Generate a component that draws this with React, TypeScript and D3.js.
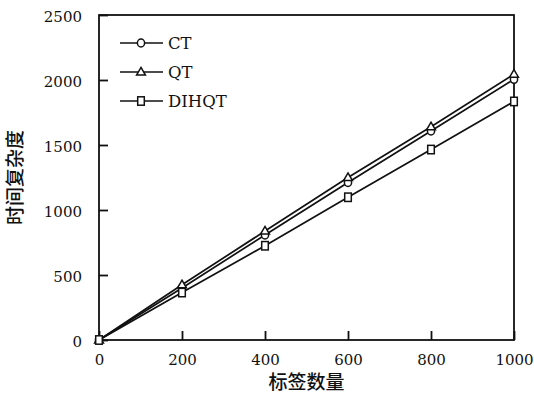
import React, { useEffect, useRef } from "react";
import * as d3 from "d3";

const xValues = [0, 200, 400, 600, 800, 1000];
const ctValues = [0, 400, 808, 1212, 1608, 2005];
const qtValues = [0, 425, 838, 1250, 1640, 2045];
const dihqtValues = [0, 365, 725, 1098, 1465, 1835];
const seriesNames = ["CT", "QT", "DIHQT"];
const seriesMarkers = ["circle", "triangle", "square"];
const xTicks = [0, 200, 400, 600, 800, 1000];
const yTicks = [0, 500, 1000, 1500, 2000, 2500];
const xLabel = "标签数量";
const yLabel = "时间复杂度";

const W = 534;
const H = 394;
const M = { left: 99, right: 20, top: 15, bottom: 54 };

function Marker({ type, x, y }: { type: string; x: number; y: number }) {
  const common = { fill: "#fff", stroke: "#111", strokeWidth: 1.5 };
  if (type === "circle") return <ellipse cx={x} cy={y} rx={3.6} ry={4} {...common} />;
  if (type === "triangle") {
    const p = d3.symbol().type(d3.symbolTriangle).size(34)();
    return <path d={p as string} transform={`translate(${x},${y + 0.5})`} {...common} />;
  }
  return <rect x={x - 3.3} y={y - 4.2} width={6.6} height={8.4} {...common} />;
}

export default function App() {
  const xAxisRef = useRef<SVGGElement>(null);
  const yAxisRef = useRef<SVGGElement>(null);
  const x = d3.scaleLinear().domain([0, 1000]).range([M.left, W - M.right]);
  const y = d3.scaleLinear().domain([0, 2500]).range([H - M.bottom, M.top]);
  const allSeries = [ctValues, qtValues, dihqtValues];

  useEffect(() => {
    const font = "'DejaVu Serif', serif";
    const xa = d3.axisBottom(x).tickValues(xTicks).tickSizeInner(-9).tickSizeOuter(0).tickPadding(14).tickFormat(d3.format("d"));
    const ya = d3.axisLeft(y).tickValues(yTicks).tickSizeInner(-9).tickSizeOuter(0).tickPadding(17).tickFormat(d3.format("d"));
    const gx = d3.select(xAxisRef.current!).call(xa as any);
    const gy = d3.select(yAxisRef.current!).call(ya as any);
    [gx, gy].forEach((g) => {
      g.select(".domain").remove();
      g.selectAll(".tick line").attr("stroke", "#111").attr("stroke-width", 1.8);
      g.selectAll(".tick text").attr("font-family", font).attr("font-size", 15).attr("fill", "#111");
    });
    gy.selectAll(".tick text").attr("dy", "0.45em");
  }, []);

  const line = d3
    .line<number>()
    .x((_, i) => x(xValues[i]))
    .y((d) => y(d));

  const legendY = [43, 72, 101];

  return (
    <svg width={W} height={H} style={{ position: "absolute", left: 0, top: 0, background: "#fff" }}>
      <rect x={0} y={0} width={W} height={H} fill="#fff" />
      <g ref={xAxisRef} transform={`translate(0,${H - M.bottom})`} />
      <g ref={yAxisRef} transform={`translate(${M.left},0)`} />
      <rect
        x={M.left}
        y={M.top}
        width={W - M.left - M.right}
        height={H - M.top - M.bottom}
        fill="none"
        stroke="#111"
        strokeWidth={1.8}
      />
      {allSeries.map((s, i) => (
        <path key={"l" + i} d={line(s) as string} fill="none" stroke="#111" strokeWidth={1.7} />
      ))}
      {allSeries.map((s, i) =>
        s.map((v, j) => <Marker key={`m${i}-${j}`} type={seriesMarkers[i]} x={x(xValues[j])} y={y(v)} />)
      )}
      {seriesNames.map((n, i) => (
        <g key={"lg" + i}>
          <line x1={120} x2={163} y1={legendY[i]} y2={legendY[i]} stroke="#111" strokeWidth={1.7} />
          <Marker type={seriesMarkers[i]} x={141} y={legendY[i]} />
          <text x={168} y={legendY[i] + 6} fontFamily="'DejaVu Serif', serif" fontSize={16.5} fill="#111">
            {n}
          </text>
        </g>
      ))}
      <text
        x={(M.left + W - M.right) / 2}
        y={389}
        textAnchor="middle"
        fontFamily="'Noto Sans CJK SC', sans-serif"
        fontWeight={500}
        fontSize={19}
        fill="#111"
      >
        {xLabel}
      </text>
      <text
        transform={`translate(22,${(M.top + H - M.bottom) / 2}) rotate(-90)`}
        textAnchor="middle"
        fontFamily="'Noto Sans CJK SC', sans-serif"
        fontWeight={500}
        fontSize={19}
        fill="#111"
      >
        {yLabel}
      </text>
    </svg>
  );
}
